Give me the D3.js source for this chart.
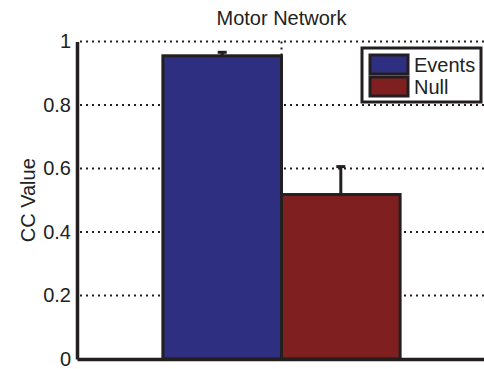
<!DOCTYPE html>
<html>
<head>
<meta charset="utf-8">
<script src="https://cdn.jsdelivr.net/npm/d3@7"></script>
<style>
  html, body { margin: 0; padding: 0; background: #fff; }
  svg { display: block; }
  text { font-family: Arial, "Liberation Sans", Helvetica, sans-serif; fill: #222; }
</style>
</head>
<body>
<svg id="chart" width="484" height="369"></svg>
<script>
// Mean clustering coefficient per condition, with one-sided error bars
const series = ["Events", "Null"];
const values = [0.955, 0.518];
const errors = [0.011, 0.088];
const colors = ["#2E2F80", "#7F1F20"];
const yTicks = [0, 0.2, 0.4, 0.6, 0.8, 1];
const yTickLabels = ["0", "0.2", "0.4", "0.6", "0.8", "1"];
const title = "Motor Network";
const yLabel = "CC Value";

const svg = d3.select("#chart");
const ink = "#231f20";
const fontSize = "20px";

// Group sits at x = 1, axis spans [0.5, 1.5]; the right side runs off the figure
const x = d3.scaleLinear().domain([0.5, 1.5]).range([77, 486]);
const y = d3.scaleLinear().domain([0, 1]).range([359, 41.5]);
const barW = 0.29;
const offsets = [-barW / 2, barW / 2];

// Dotted grid
const grid = svg.append("g").attr("stroke", ink).attr("stroke-width", 2)
  .attr("stroke-dasharray", "2,4");
grid.selectAll("line.h").data(yTicks.filter(d => d > 0)).join("line")
  .attr("class", "h")
  .attr("x1", x(0.5) + 3).attr("x2", 484)
  .attr("y1", d => y(d)).attr("y2", d => y(d));
grid.append("line")
  .attr("x1", x(1)).attr("x2", x(1))
  .attr("y1", y(1)).attr("y2", y(0));

// Error bars (upper side only)
const eb = svg.append("g").attr("stroke", ink).attr("stroke-width", 3);
series.forEach((s, i) => {
  const cx = x(1 + offsets[i]);
  eb.append("line").attr("x1", cx).attr("x2", cx)
    .attr("y1", y(values[i])).attr("y2", y(values[i] + errors[i]));
  eb.append("line").attr("x1", cx - 4.5).attr("x2", cx + 4.5)
    .attr("y1", y(values[i] + errors[i])).attr("y2", y(values[i] + errors[i]));
});

// Bars
svg.append("g").selectAll("rect").data(series).join("rect")
  .attr("x", (d, i) => x(1 + offsets[i] - barW / 2))
  .attr("width", x(barW) - x(0))
  .attr("y", (d, i) => y(values[i]))
  .attr("height", (d, i) => y(0) - y(values[i]))
  .attr("fill", (d, i) => colors[i])
  .attr("stroke", ink).attr("stroke-width", 3);

// Axes
const yAxis = d3.axisLeft(y).tickValues(yTicks)
  .tickFormat((d, i) => yTickLabels[i]).tickSize(0).tickPadding(6);
const gy = svg.append("g").attr("transform", `translate(${x(0.5)},0)`).call(yAxis);
gy.select(".domain").attr("stroke", ink).attr("stroke-width", 3.5);
gy.selectAll("text").style("font-size", fontSize).attr("fill", "#222");

const xAxis = d3.axisBottom(x).tickValues([]).tickSize(0).tickSizeOuter(0);
const gx = svg.append("g").attr("transform", `translate(0,${y(0)})`).call(xAxis);
gx.select(".domain").attr("stroke", ink).attr("stroke-width", 3.5);

// Title and axis label
svg.append("text").attr("x", x(1)).attr("y", 25)
  .attr("text-anchor", "middle").style("font-size", fontSize).text(title);
svg.append("text")
  .attr("transform", `translate(35,${(y(0) + y(1)) / 2}) rotate(-90)`)
  .attr("text-anchor", "middle").style("font-size", fontSize).text(yLabel);

// Legend
const lg = svg.append("g").attr("transform", "translate(362,48)");
lg.append("rect").attr("width", 119).attr("height", 54)
  .attr("fill", "#fff").attr("stroke", ink).attr("stroke-width", 3);
series.forEach((s, i) => {
  const row = lg.append("g").attr("transform", `translate(8,${7 + i * 22})`);
  row.append("rect").attr("width", 38).attr("height", 19)
    .attr("fill", colors[i]).attr("stroke", ink).attr("stroke-width", 3);
  row.append("text").attr("x", 44).attr("y", 17)
    .style("font-size", fontSize).text(s);
});
</script>
</body>
</html>
